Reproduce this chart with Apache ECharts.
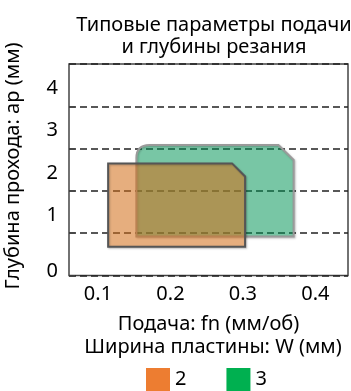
<!DOCTYPE html>
<html><head><meta charset="utf-8">
<script src="https://cdn.jsdelivr.net/npm/echarts@6/dist/echarts.min.js"></script>
<style>html,body{margin:0;padding:0;background:#fff}#c{width:351px;height:391px}</style>
</head><body><div id="c"></div>
<script>
var seriesNames = ['2', '3'];
var seriesColors = ['#ED7D31', '#00B050'];
// Feed range polygons (fn, ap) for insert widths 2 and 3 mm
var width2Fn = [0.114, 0.114, 0.285, 0.303, 0.303];
var width2Ap = [0.68, 2.65, 2.65, 2.34, 0.68];
var width3Fn = [0.153, 0.153, 0.349, 0.370, 0.370];
var width3Ap = [0.92, 3.085, 3.085, 2.73, 0.92];
var xTickValues = [0.1, 0.2, 0.3, 0.4];
var yTickLabels = ['0', '1', '2', '3', '4'];

var FONT = 'Noto Sans';
var FS = 20;
function zip(a, b) { return a.map(function (v, i) { return [v, b[i]]; }); }
var poly2 = zip(width2Fn, width2Ap);
var poly3 = zip(width3Fn, width3Ap);

function makeRender(points, fill, stroke, roundFirstCorner) {
  return function (params, api) {
    var pts = points.map(function (p) { return api.coord(p); });
    var d = '';
    if (roundFirstCorner) {
      var r = 13;
      d = 'M' + pts[0][0] + ' ' + pts[0][1] +
          ' L' + pts[1][0] + ' ' + (pts[1][1] + r) +
          ' Q' + pts[1][0] + ' ' + pts[1][1] + ' ' + (pts[1][0] + r) + ' ' + pts[1][1];
      for (var i = 2; i < pts.length; i++) d += ' L' + pts[i][0] + ' ' + pts[i][1];
      d += ' Z';
    } else {
      d = 'M' + pts[0][0] + ' ' + pts[0][1];
      for (var j = 1; j < pts.length; j++) d += ' L' + pts[j][0] + ' ' + pts[j][1];
      d += ' Z';
    }
    return {
      type: 'path',
      shape: { pathData: d },
      style: { fill: fill, stroke: stroke, lineWidth: 2, shadowBlur: 2, shadowColor: 'rgba(0,0,0,0.25)', shadowOffsetX: 1, shadowOffsetY: 1 }
    };
  };
}

var chart = echarts.init(document.getElementById('c'), null, { renderer: 'canvas' });
chart.setOption({
  animation: false,
  textStyle: { fontFamily: FONT },
  title: [
    { text: 'Типовые параметры подачи\nи глубины резания', left: 209, top: 9, textAlign: 'center',
      textStyle: { fontFamily: FONT, fontSize: FS, fontWeight: 'normal', color: '#000', lineHeight: 22 } },
    { text: 'Ширина пластины: W (мм)', left: 208, top: 332, textAlign: 'center',
      textStyle: { fontFamily: FONT, fontSize: FS, fontWeight: 'normal', color: '#000' } }
  ],
  graphic: [
    { type: 'text', x: 13, y: 166, rotation: Math.PI / 2,
      style: { text: 'Глубина прохода: ap (мм)', fontFamily: FONT, fontSize: FS, fill: '#000',
        align: 'center', verticalAlign: 'middle' } }
  ],
  legend: {
    left: 146, top: 368, padding: 0, itemWidth: 24, itemHeight: 23, itemGap: 40, icon: 'rect',
    textStyle: { fontFamily: FONT, fontSize: FS, color: '#000' },
    data: [
      { name: seriesNames[0], itemStyle: { color: seriesColors[0] } },
      { name: seriesNames[1], itemStyle: { color: seriesColors[1] } }
    ]
  },
  grid: { left: 69, right: 3, top: 64, bottom: 115.5, show: true, borderColor: '#444', borderWidth: 1.5,
    containLabel: false, outerBoundsMode: 'none' },
  xAxis: {
    type: 'value', min: 0.06, max: 0.445,
    name: 'Подача: fn (мм/об)', nameLocation: 'middle', nameGap: 39,
    nameTextStyle: { fontFamily: FONT, fontSize: FS, color: '#000' },
    axisLine: { show: false }, axisTick: { show: false }, splitLine: { show: false },
    axisLabel: { customValues: xTickValues, formatter: function (v) { return v.toFixed(1); },
      fontFamily: FONT, fontSize: FS, color: '#000', margin: 9 }
  },
  yAxis: {
    type: 'value', min: 0, max: 5, interval: 1,
    axisLine: { show: false },
    axisTick: { show: true, inside: true, length: 6, lineStyle: { color: '#444', width: 1.5 } },
    splitLine: { show: true, lineStyle: { color: '#222', type: [7, 4], width: 1.5 } },
    axisLabel: {
      fontFamily: FONT, fontSize: FS, color: '#000', margin: 11, showMaxLabel: false,
      formatter: function (v) {
        var s = yTickLabels[v];
        if (s === undefined) return '';
        return v === 0 ? '{z|' + s + '}' : '{a|' + s + '}';
      },
      rich: {
        a: { fontFamily: FONT, fontSize: FS, color: '#000', padding: [0, 0, 36, 0] },
        z: { fontFamily: FONT, fontSize: FS, color: '#000', padding: [0, 0, 8, 0] }
      }
    }
  },
  series: [
    { name: seriesNames[1], type: 'custom', itemStyle: { color: seriesColors[1] },
      renderItem: makeRender(poly3, 'rgba(0,165,95,0.47)', '#9a9a9a', true), data: [[0, 0]], z: 2 },
    { name: seriesNames[0], type: 'custom', itemStyle: { color: seriesColors[0] },
      renderItem: makeRender(poly2, 'rgba(237,125,30,0.5)', '#555', false), data: [[0, 0]], z: 3 }
  ]
});
</script></body></html>
